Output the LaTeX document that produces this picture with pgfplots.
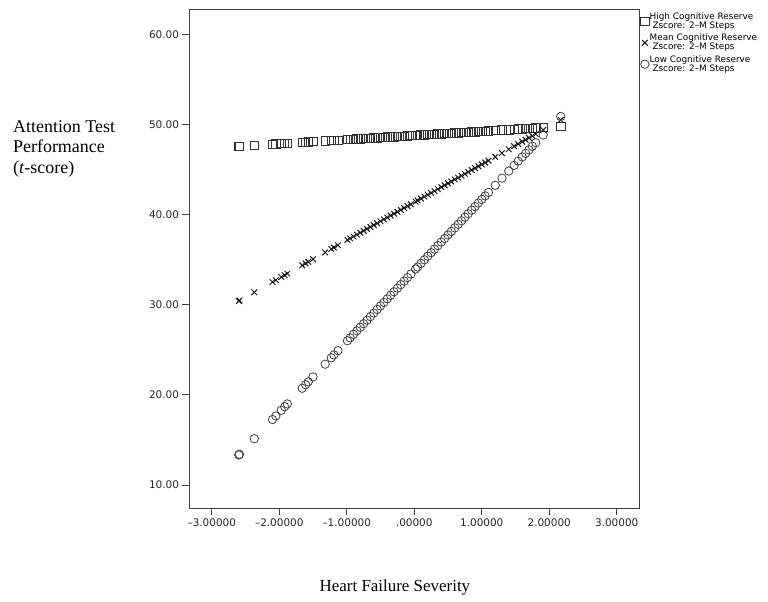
\documentclass[border=0pt]{standalone}
\usepackage{fontspec}
\setmainfont{Liberation Serif}
\newfontfamily\sansf{DejaVu Sans}
\usepackage{pgfplots}
\usepackage{pgfplotstable}
\pgfplotsset{compat=1.18}

\pgfplotstableread{
x h m l
-2.60 47.60 30.42 13.33
-2.59 47.60 30.47 13.41
-2.37 47.70 31.39 15.14
-2.10 47.83 32.53 17.27
-2.05 47.85 32.74 17.66
-1.97 47.89 33.08 18.29
-1.92 47.91 33.29 18.69
-1.88 47.93 33.46 19.00
-1.66 48.03 34.38 20.74
-1.61 48.05 34.59 21.13
-1.57 48.07 34.76 21.45
-1.50 48.10 35.06 22.00
-1.32 48.18 35.81 23.41
-1.23 48.23 36.19 24.12
-1.19 48.24 36.36 24.44
-1.13 48.27 36.61 24.91
-0.99 48.34 37.20 26.01
-0.95 48.35 37.37 26.33
-0.90 48.38 37.58 26.72
-0.85 48.40 37.79 27.12
-0.80 48.42 38.00 27.51
-0.75 48.45 38.21 27.90
-0.70 48.47 38.42 28.30
-0.65 48.49 38.63 28.69
-0.60 48.51 38.84 29.08
-0.55 48.54 39.05 29.48
-0.50 48.56 39.27 29.87
-0.45 48.58 39.48 30.27
-0.40 48.61 39.69 30.66
-0.35 48.63 39.90 31.05
-0.30 48.65 40.11 31.45
-0.25 48.68 40.32 31.84
-0.20 48.70 40.53 32.24
-0.15 48.72 40.74 32.63
-0.10 48.74 40.95 33.02
-0.05 48.77 41.16 33.42
0.02 48.80 41.45 33.97
0.05 48.81 41.58 34.20
0.10 48.84 41.79 34.60
0.15 48.86 42.00 34.99
0.20 48.88 42.21 35.39
0.25 48.90 42.42 35.78
0.30 48.93 42.63 36.17
0.35 48.95 42.84 36.57
0.40 48.97 43.05 36.96
0.45 49.00 43.26 37.35
0.50 49.02 43.48 37.75
0.55 49.04 43.69 38.14
0.60 49.07 43.90 38.54
0.65 49.09 44.11 38.93
0.70 49.11 44.32 39.32
0.75 49.13 44.53 39.72
0.80 49.16 44.74 40.11
0.85 49.18 44.95 40.50
0.90 49.20 45.16 40.90
0.95 49.23 45.37 41.29
1.00 49.25 45.58 41.69
1.05 49.27 45.79 42.08
1.10 49.29 46.00 42.47
1.20 49.34 46.42 43.26
1.30 49.39 46.84 44.05
1.40 49.43 47.26 44.84
1.48 49.47 47.60 45.47
1.54 49.50 47.85 45.94
1.60 49.52 48.11 46.41
1.65 49.55 48.32 46.81
1.70 49.57 48.53 47.20
1.75 49.59 48.74 47.59
1.80 49.62 48.95 47.99
1.91 49.67 49.41 48.85
2.17 49.79 50.51 50.90
}\data

\begin{document}
\begin{tikzpicture}
\useasboundingbox (0,0) rectangle (768bp,602bp);
\begin{axis}[
  at={(189.5bp,94bp)}, anchor=south west,
  scale only axis, clip=false,
  width=449.5bp, height=498.5bp,
  xmin=-3.33, xmax=3.33,
  ymin=7.45, ymax=62.77,
  axis line style={black!75, line width=1bp},
  tick style={black!75, line width=1bp},
  tick align=outside,
  major tick length=7bp,
  tick pos=left,
  xtick={-3,-2,-1,0,1,2,3},
  xticklabels={\textendash3.00000,\textendash2.00000,\textendash1.00000,.00000,1.00000,2.00000,3.00000},
  ytick={10,20,30,40,50,60},
  yticklabels={10.00,20.00,30.00,40.00,50.00,60.00},
  ticklabel style={font=\sansf\fontsize{10.5}{12}\selectfont, text=black!85},
  legend cell align=left,
  legend style={at={(axis description cs:1,1)}, anchor=north west,
    xshift=1.5bp, yshift=-2.5bp,
    draw=none, fill=none, inner sep=0pt, row sep=3bp,
    font=\sansf\fontsize{8.9}{9}\selectfont,
    nodes={inner sep=0.6bp, align=left}},
  legend image code/.code={\draw[#1] plot coordinates {(0bp,0bp)};},
]
\addplot[only marks, mark=square, mark size=4.2bp, black!80, mark options={line width=0.8bp}] table[x=x,y=h] {\data};
\addlegendentry{High Cognitive Reserve\\\ Zscore: 2\textendash M Steps}
\addplot[only marks, mark=x, mark size=4bp, black!90, mark options={line width=1bp}] table[x=x,y=m] {\data};
\addlegendentry{Mean Cognitive Reserve\\\ Zscore: 2\textendash M Steps}
\addplot[only marks, mark=o, mark size=4.2bp, black!75, mark options={line width=0.8bp}] table[x=x,y=l] {\data};
\addlegendentry{Low Cognitive Reserve\\\ Zscore: 2\textendash M Steps}
\node[anchor=north west, inner sep=0pt, align=left, font=\fontsize{18}{20.5}\selectfont]
  at (axis description cs:-0.3927,0.7775) {Attention Test\\Performance\\(\textit{t}-score)};
\node[anchor=base, inner sep=0pt, font=\fontsize{17}{20}\selectfont]
  at (axis description cs:0.457,-0.1679) {Heart Failure Severity};
\end{axis}
\end{tikzpicture}
\end{document}
